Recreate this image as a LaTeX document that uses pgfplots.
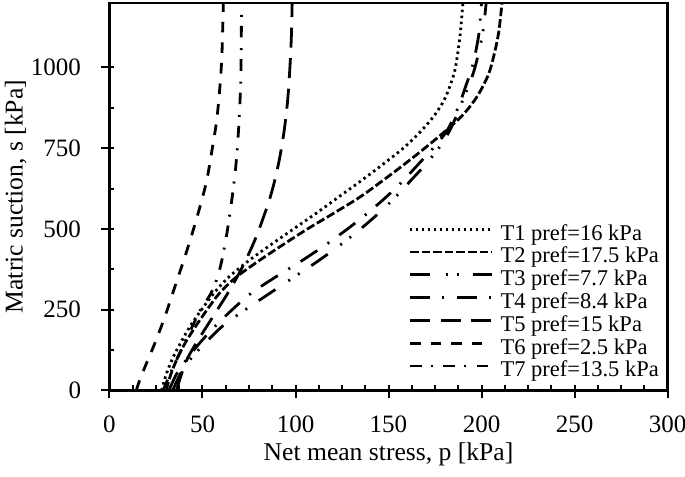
\documentclass[border=0pt]{standalone}
\usepackage{fontspec}
\setmainfont{Liberation Serif}
\usepackage{pgfplots}
\pgfplotsset{compat=1.18}
\begin{document}
\begin{tikzpicture}
\begin{axis}[
  scale only axis, width=279pt, height=193.8pt,
  xmin=0, xmax=300, ymin=0, ymax=1200,
  xtick={0,50,...,300}, ytick={0,250,...,1000},
  minor x tick num=3, minor y tick num=1,
  xtick pos=bottom, ytick pos=left,
  tick align=center, major tick length=6.5pt, minor tick length=2.5pt,
  major x tick style={yshift=-0.75pt}, major y tick style={xshift=-0.75pt},
  minor x tick style={yshift=1.25pt}, minor y tick style={xshift=1.25pt},
  axis line style={line width=1.1pt}, every tick/.style={black, line width=1pt},
  /pgf/number format/assume math mode=true,
  /pgf/number format/1000 sep={},
  tick label style={font=\fontsize{12.5}{14}\selectfont, inner sep=0pt},
  xticklabel style={anchor=north, yshift=-9.3pt},
  yticklabel style={anchor=east, xshift=-10.8pt},
  xlabel={Net mean stress, p [kPa]}, ylabel={Matric suction, s [kPa]},
  label style={font=\fontsize{12.8}{14}\selectfont, inner sep=0pt},
  xlabel style={at={(axis description cs:0.5,-0.1796)}, anchor=base},
  ylabel style={at={(axis description cs:-0.148,0.5)}, anchor=south, rotate=0},
  legend cell align=left,
  legend style={at={(rel axis cs:0.536,0.432)}, anchor=north west, draw=none, fill=none,
    inner sep=0pt, outer sep=0pt, row sep=0pt,
    font=\fontsize{11.25}{12}\selectfont,
    nodes={inner sep=0pt, text height=8.6pt, text depth=2.8pt},
    /tikz/every odd column/.append style={column sep=3.8pt}},
  legend image code/.code={\draw[#1] (0pt,2.6pt) -- (40.8pt,2.6pt);},
  every axis plot/.append style={line width=1.4pt, black, smooth, tension=0.55, line cap=butt},
]
\addplot[dash pattern=on 1.25pt off 1.75pt] coordinates {
(28,0)(30.5,50)(34,100)(38.5,150)(43.5,200)(49.5,250)(56,300)(64,350)(74.5,400)(86.5,450)(99,500)(111.5,550)(123.5,600)(135.5,650)(147,700)(158,750)(167,800)(174.5,850)(180,900)(183.5,950)(186,1000)(188.5,1100)(190,1200)};
\addlegendentry{T1 pref=16 kPa}
\addplot[dash pattern=on 4.3pt off 1.5pt] coordinates {
(30.5,0)(33,50)(36.5,100)(41,150)(46.5,200)(52.5,250)(59,300)(68,350)(80,400)(93,450)(106.5,500)(121,550)(135,600)(147,650)(158.5,700)(169.5,750)(180,800)(189.5,850)(196.5,900)(201.5,950)(205,1000)(209,1100)(211,1200)};
\addlegendentry{T2 pref=17.5 kPa}
\addplot[dash pattern=on 10pt off 7.8pt on 1pt off 4.8pt on 1pt off 7pt] coordinates {
(34,0)(38,50)(44,100)(52,150)(61,200)(73,250)(86,300)(99,350)(112,400)(124,450)(135,500)(145,550)(154,600)(162,650)(170,700)(177,750)(182.5,800)(186.5,850)(190,900)(193.5,950)(196.5,1000)(200.5,1100)(202.5,1200)};
\addlegendentry{T3 pref=7.7 kPa}
\addplot[dash pattern=on 10pt off 6.2pt on 1pt off 6.2pt] coordinates {
(32,0)(36,50)(42,100)(49,150)(57,200)(66,250)(76,300)(89,350)(103,400)(116,450)(128,500)(139,550)(149,600)(158,650)(166,700)(174,750)(181,800)(185.5,850)(189,900)(192,950)(195,1000)(198.5,1100)(200,1200)};
\addlegendentry{T4 pref=8.4 kPa}
\addplot[dash pattern=on 10pt off 5.3pt] coordinates {
(36,0)(38.7,50)(42,100)(47,150)(52.5,200)(58,250)(63.5,300)(68.5,350)(73,400)(77,450)(80.5,500)(86.5,600)(90.8,700)(93.8,800)(95.8,900)(97,1000)(97.8,1100)(98.2,1200)};
\addlegendentry{T5 pref=15 kPa}
\addplot[dash pattern=on 5.3pt off 5pt] coordinates {
(14.4,0)(16.2,31)(19.8,83)(24.3,145)(29.7,227)(35.1,320)(40.5,413)(45,496)(48.6,568)(52.3,651)(55.4,754)(57.7,840)(59.5,950)(60.5,1050)(61.2,1200)};
\addlegendentry{T6 pref=2.5 kPa}
\addplot[dash pattern=on 5.8pt off 4.5pt on 1pt off 5.4pt] coordinates {
(28.8,0)(32.5,50)(36.5,100)(40.5,150)(44.7,200)(49,250)(54.5,300)(58,350)(60.3,400)(62,450)(63.5,500)(66,600)(68,700)(69.3,800)(70.2,900)(70.7,1000)(71,1200)};
\addlegendentry{T7 pref=13.5 kPa}
\end{axis}
\pgfresetboundingbox
\path ([shift={(-54.75pt,-42.85pt)}]current axis.south west) rectangle ([shift={(8.75pt,1.4pt)}]current axis.north east);
\end{tikzpicture}
\end{document}
